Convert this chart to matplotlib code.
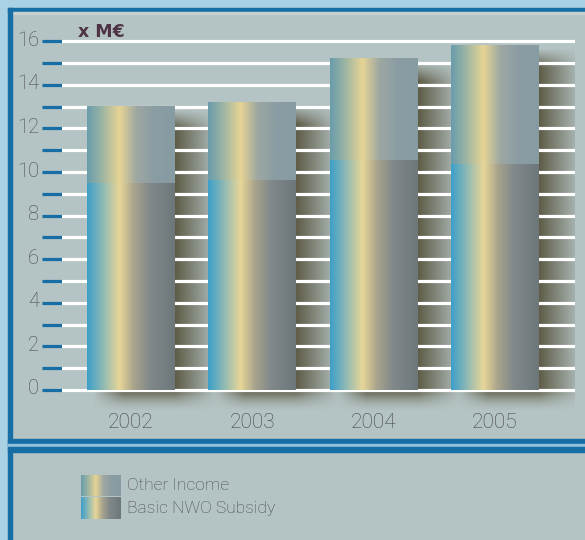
import numpy as np
import matplotlib
matplotlib.use("Agg")
import matplotlib.pyplot as plt
from matplotlib.colors import to_rgb
from matplotlib.patches import Rectangle
import matplotlib.transforms as mtransforms

# ---- data ----
years = ["2002", "2003", "2004", "2005"]
basic_nwo_subsidy = [9.5, 9.65, 10.55, 10.35]
other_income = [3.5, 3.55, 4.65, 5.45]
series_names = ["Other Income", "Basic NWO Subsidy"]
unit_label = "x M\u20ac"
y_max = 16

NARROW = ["Roboto", "DejaVu Sans"]

outer_bg = "#a9d3e5"
panel_bg = "#b4c3c3"
border = "#176ea5"

base_stops = [(0.0, "#3d9fca"), (0.12, "#72b0bd"), (0.37, "#e8d698"),
              (0.53, "#a9a48c"), (0.72, "#80888a"), (1.0, "#6d777a")]
top_stops = [(0.0, "#6a9cab"), (0.14, "#92b0a6"), (0.37, "#e6d494"),
             (0.56, "#9ea8a2"), (0.76, "#8b9da3"), (1.0, "#879ba3")]


def gradient(stops, n=256):
    pos = np.array([p for p, _ in stops])
    cols = np.array([to_rgb(c) for _, c in stops])
    t = np.linspace(0, 1, n)
    out = np.stack([np.interp(t, pos, cols[:, k]) for k in range(3)], axis=-1)
    return out[np.newaxis, :, :]


fig = plt.figure(figsize=(5.85, 5.40), dpi=100)
W, H = 585, 540

# ---- background / frame in pixel coordinates ----
bg = fig.add_axes([0, 0, 1, 1])
bg.set_xlim(0, W)
bg.set_ylim(H, 0)
bg.axis("off")
bg.add_patch(Rectangle((0, 0), W, H, color=outer_bg, zorder=0))
bg.add_patch(Rectangle((8, 8), W, H, color=panel_bg, zorder=0.5))
bg.add_patch(Rectangle((8, 8), W, 3.5, color=border, zorder=1))
bg.add_patch(Rectangle((12, 11.5), W, 2, color="#c6d0d0", zorder=1))
bg.add_patch(Rectangle((8, 8), 3.5, H, color=border, zorder=1))
bg.add_patch(Rectangle((8, 439), W, 5, color=border, zorder=1))
bg.add_patch(Rectangle((8, 444), W, 3, color="#8fc3dc", zorder=1))
bg.add_patch(Rectangle((8, 447), W, 5, color=border, zorder=1))

# ---- chart axes ----
y0_px, y16_px = 390.0, 41.3
ppu = (y0_px - y16_px) / y_max
ylo, yhi = -1.0, 16.3
ax_top = y16_px - (yhi - y_max) * ppu
ax_bot = y0_px - ylo * ppu
x_left, x_right = 62, 575
xlo, xhi = -0.569, 3.66
ax = fig.add_axes([x_left / W, (H - ax_bot) / H, (x_right - x_left) / W, (ax_bot - ax_top) / H])
ax.patch.set_alpha(0)
for s in ax.spines.values():
    s.set_visible(False)

x = np.arange(len(years))
bw = 0.725
total = [b + o for b, o in zip(basic_nwo_subsidy, other_income)]

base_bars = ax.bar(x, basic_nwo_subsidy, bw, color="none", zorder=3)
top_bars = ax.bar(x, other_income, bw, bottom=basic_nwo_subsidy, color="none", zorder=3)

g_base = gradient(base_stops)
g_top = gradient(top_stops)
for p in base_bars:
    ax.imshow(g_base, extent=[p.get_x(), p.get_x() + p.get_width(), p.get_y(), p.get_y() + p.get_height()],
              aspect="auto", interpolation="bilinear", zorder=3)
for p in top_bars:
    ax.imshow(g_top, extent=[p.get_x(), p.get_x() + p.get_width(), p.get_y(), p.get_y() + p.get_height()],
              aspect="auto", interpolation="bilinear", zorder=3)

# drop shadows
sh_col = np.array(to_rgb("#4f4930"))
for p, t in zip(base_bars, total):
    x0, x1 = p.get_x(), p.get_x() + p.get_width()
    sx0, sx1 = x0 + 0.05, x1 + 0.36
    sy0, sy1 = -1.0, t - 0.1
    nx, ny = 200, 300
    xs = np.linspace(sx0, sx1, nx)
    ys = np.linspace(sy1, sy0, ny)
    XX, YY = np.meshgrid(xs, ys)
    fx = np.where(XX > x1, 1 - (XX - x1) / (sx1 - x1), 1.0)
    fx = fx * np.clip((XX - sx0) / 0.25, 0, 1)
    fy = np.clip((sy1 - YY) / 0.9, 0, 1)
    fy = np.where(YY < 0, np.clip(1 + YY / 1.0, 0, 1) ** 1.6, fy)
    alpha = 0.85 * np.clip(fx, 0, 1) * fy
    img = np.zeros((ny, nx, 4))
    img[..., :3] = sh_col
    img[..., 3] = alpha
    ax.imshow(img, extent=[sx0, sx1, sy0, sy1], aspect="auto", interpolation="bilinear", zorder=1.5)

# white gridlines
for v in range(0, y_max + 1):
    ax.axhline(v, color="white", lw=2.3, zorder=2)

ax.set_xlim(xlo, xhi)
ax.set_ylim(ylo, yhi)

ax.set_yticks(range(0, y_max + 1, 2))
ax.set_yticklabels([str(v) for v in range(0, y_max + 1, 2)])
ax.set_yticks(range(1, y_max, 2), minor=True)
ax.tick_params(axis="y", which="both", direction="out", length=14.4, width=2.3,
               color=border, pad=2, labelsize=14.5, labelcolor="#4a4a4a")
for lab in ax.get_yticklabels():
    lab.set_family(NARROW)
    lab.set_fontweight("light")
    lab.set_transform(lab.get_transform() + mtransforms.ScaledTranslation(0, 3 / 100, fig.dpi_scale_trans))

ax.set_xticks(x)
ax.set_xticklabels(years)
ax.tick_params(axis="x", length=0, pad=1, labelsize=15, labelcolor="#454545")
for lab in ax.get_xticklabels():
    lab.set_family(NARROW)
    lab.set_fontweight("light")

bg.text(78, 37, unit_label, fontsize=12.5, fontweight="bold", color="#4e3345",
        family="DejaVu Sans", ha="left", va="baseline", zorder=5)

# ---- legend ----
leg_x0, leg_x1 = 81, 121
leg_rows = [(475, 496, g_top, series_names[0]), (497, 519, g_base, series_names[1])]
for ya, yb, g, name in leg_rows:
    bg.imshow(g, extent=[leg_x0, leg_x1, yb, ya], aspect="auto", interpolation="bilinear", zorder=3)
    bg.text(127, (ya + yb) / 2, name, fontsize=12.5, color="#4a4a4a", family=NARROW,
            fontweight="light", ha="left", va="center", zorder=4)
bg.set_xlim(0, W)
bg.set_ylim(H, 0)

fig.savefig("out.png", dpi=100)
